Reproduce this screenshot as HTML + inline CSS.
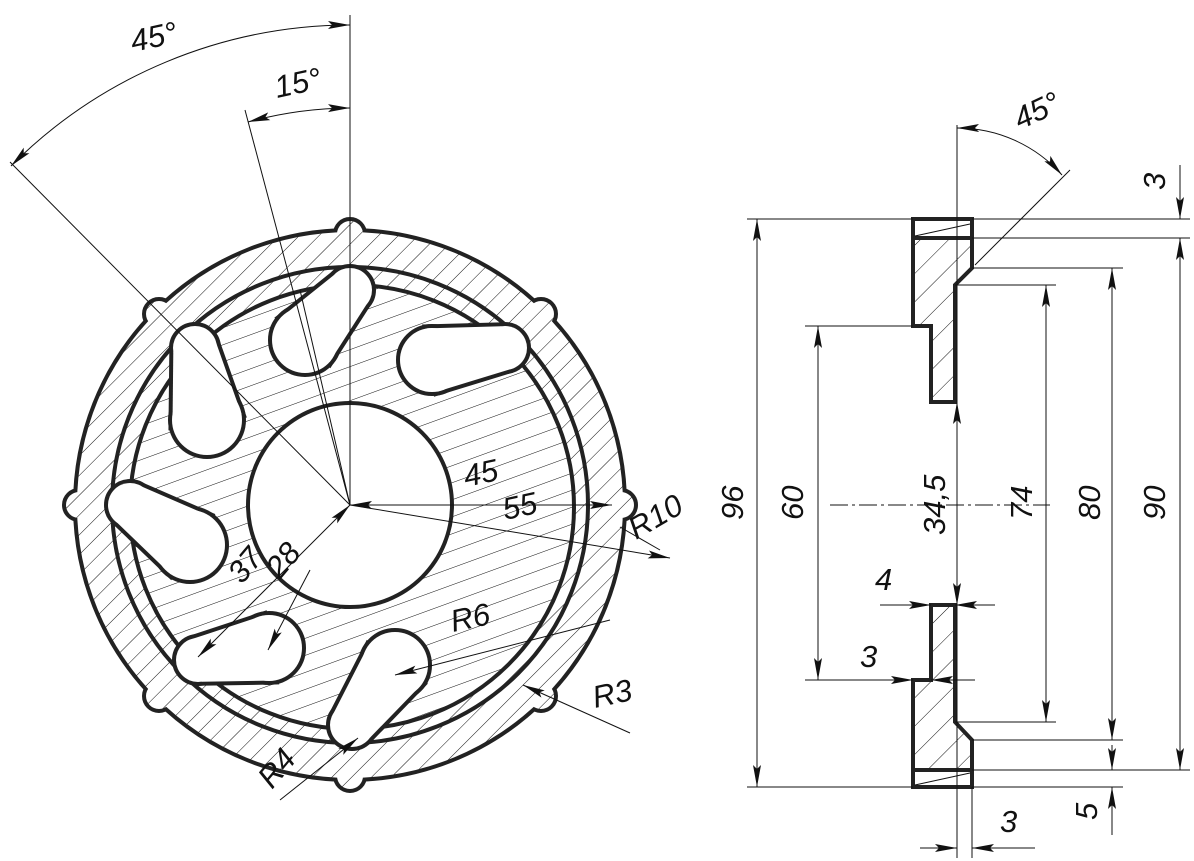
<!DOCTYPE html>
<html><head><meta charset="utf-8"><style>
html,body{margin:0;padding:0;background:#fff}
svg{display:block}
text{font-family:"Liberation Sans",sans-serif;font-style:italic;font-size:31px;fill:#111;font-weight:normal}
</style></head><body>
<svg width="1194" height="861" viewBox="0 0 1194 861" xmlns="http://www.w3.org/2000/svg">
<defs>
<pattern id="h45" patternUnits="userSpaceOnUse" width="14" height="14" patternTransform="rotate(45)">
<rect width="14" height="14" fill="#fff"/><line x1="0" y1="0" x2="0" y2="14" stroke="#111" stroke-width="1"/></pattern>
<pattern id="hs" patternUnits="userSpaceOnUse" width="16" height="16" patternTransform="rotate(-20)">
<rect width="16" height="16" fill="#fff"/><line x1="0" y1="0" x2="16" y2="0" stroke="#111" stroke-width="1"/></pattern>
<pattern id="hr" patternUnits="userSpaceOnUse" width="20" height="20" patternTransform="rotate(45)">
<rect width="20" height="20" fill="#fff"/><line x1="0" y1="0" x2="0" y2="20" stroke="#111" stroke-width="1"/></pattern>
<marker id="a" viewBox="0 -5 22 10" refX="22" refY="0" markerWidth="22" markerHeight="10" markerUnits="userSpaceOnUse" orient="auto-start-reverse">
<path d="M0,-4 L22,0 L0,4 L4,0 z" fill="#111"/></marker>
<g id="body">
<circle cx="350" cy="505" r="273"/>
<circle cx="621" cy="505" r="13"/><circle cx="541" cy="314" r="13"/><circle cx="350" cy="234" r="13"/><circle cx="159" cy="314" r="13"/>
<circle cx="79" cy="505" r="13"/><circle cx="159" cy="696" r="13"/><circle cx="350" cy="776" r="13"/><circle cx="541" cy="696" r="13"/>
</g>
<g id="holes">
<circle cx="350" cy="505" r="100"/>
<circle cx="305" cy="340" r="33"/><circle cx="350" cy="290" r="22"/><polygon points="329.5,362.1 280.5,317.9 333.7,275.3 366.3,304.7"/>
<circle cx="432" cy="360" r="32"/><circle cx="505" cy="348" r="22"/><polygon points="437.2,391.6 426.8,328.4 501.4,326.3 508.6,369.7"/>
<circle cx="207" cy="420" r="35"/><circle cx="195" cy="348" r="22"/><polygon points="241.5,414.3 172.5,425.7 173.3,351.6 216.7,344.4"/>
<circle cx="190" cy="545" r="35"/><circle cx="130" cy="505" r="22"/><polygon points="209.4,515.9 170.6,574.1 117.8,523.3 142.2,486.7"/>
<circle cx="269" cy="648" r="33"/><circle cx="198" cy="660" r="22"/><polygon points="263.5,615.5 274.5,680.5 201.7,681.7 194.3,638.3"/>
<circle cx="395" cy="665" r="33"/><circle cx="352" cy="725" r="22"/><polygon points="421.8,684.2 368.2,645.8 334.1,712.2 369.9,737.8"/>
</g>
</defs>

<use href="#body" fill="#111" stroke="#222" stroke-width="8"/>
<use href="#body" fill="url(#h45)" stroke="none"/>
<circle cx="350" cy="505" r="238" fill="url(#h45)" stroke="#222" stroke-width="4"/>
<circle cx="352" cy="507" r="222" fill="url(#hs)" stroke="#222" stroke-width="4"/>
<use href="#holes" fill="#111" stroke="#222" stroke-width="8"/>
<use href="#holes" fill="#fff" stroke="none"/>

<g stroke="#111" stroke-width="1" fill="none">
<line x1="350" y1="15" x2="350" y2="505"/>
<line x1="10" y1="162" x2="350" y2="505"/>
<line x1="245" y1="110" x2="350" y2="505"/>
<path d="M350,25 A480,480 0 0 0 11,166" marker-start="url(#a)" marker-end="url(#a)"/>
<path d="M350,108 A397,397 0 0 0 248,122" marker-start="url(#a)" marker-end="url(#a)"/>
<line x1="450" y1="505" x2="350" y2="505" marker-end="url(#a)"/>
<line x1="350" y1="505" x2="612" y2="505" marker-end="url(#a)"/>
<line x1="350" y1="505" x2="670" y2="558" marker-end="url(#a)"/>
<line x1="350" y1="505" x2="300" y2="290"/>
<line x1="350" y1="505" x2="198" y2="657" marker-end="url(#a)" marker-start="url(#a)"/>
<line x1="310" y1="570" x2="268" y2="650" marker-end="url(#a)"/>
<line x1="610" y1="620" x2="395" y2="675" marker-end="url(#a)"/>
<line x1="630" y1="733" x2="523" y2="685" marker-end="url(#a)"/>
<line x1="620" y1="527" x2="660" y2="550"/>
<line x1="280" y1="800" x2="358" y2="738" marker-end="url(#a)"/>
</g>
<text transform="translate(133,52) rotate(-12)">45°</text>
<text transform="translate(277,98) rotate(-12)">15°</text>
<text transform="translate(466,487) rotate(-12)">45</text>
<text transform="translate(505,520) rotate(-12)">55</text>
<text transform="translate(636,540) rotate(-30)">R10</text>
<text transform="translate(242,585) rotate(-50)">37</text>
<text transform="translate(280,580) rotate(-50)">28</text>
<text transform="translate(453,632) rotate(-12)">R6</text>
<text transform="translate(595,708) rotate(-12)">R3</text>
<text transform="translate(272,790) rotate(-50)">R4</text>

<g stroke="#222" stroke-width="4" stroke-linejoin="miter">
<path d="M913,219 L972,219 L972,268 L955,285 L955,402 L931,402 L931,326 L913,326 Z" fill="url(#hr)"/>
<line x1="913" y1="238" x2="972" y2="238"/>
<path d="M931,605 L955,605 L955,722 L972,740 L972,787 L913,787 L913,680 L931,680 Z" fill="url(#hr)"/>
<line x1="913" y1="770" x2="972" y2="770"/>
<rect x="915" y="221" width="55" height="15" fill="#fff" stroke="none"/>
<rect x="915" y="772" width="55" height="13" fill="#fff" stroke="none"/>
</g>
<g stroke="#111" stroke-width="1" fill="none">
<line x1="915" y1="236" x2="970" y2="224"/>
<line x1="915" y1="785" x2="970" y2="773"/>
<line x1="957" y1="125" x2="957" y2="858"/>
<line x1="830" y1="505" x2="1050" y2="505" stroke-dasharray="18,4,3,4"/>
<line x1="975" y1="265" x2="1070" y2="170"/>
<path d="M957,128 A140,140 0 0 1 1062,175" marker-start="url(#a)" marker-end="url(#a)"/>
<line x1="747" y1="219" x2="913" y2="219"/><line x1="747" y1="787" x2="913" y2="787"/>
<line x1="805" y1="326" x2="913" y2="326"/><line x1="805" y1="680" x2="913" y2="680"/>
<line x1="955" y1="285" x2="1056" y2="285"/><line x1="955" y1="722" x2="1056" y2="722"/>
<line x1="972" y1="268" x2="1123" y2="268"/><line x1="972" y1="740" x2="1123" y2="740"/>
<line x1="972" y1="219" x2="1190" y2="219"/><line x1="972" y1="238" x2="1190" y2="238"/>
<line x1="972" y1="770" x2="1190" y2="770"/><line x1="972" y1="787" x2="1123" y2="787"/>
<line x1="972" y1="787" x2="972" y2="858"/>
<line x1="757" y1="219" x2="757" y2="787" marker-start="url(#a)" marker-end="url(#a)"/>
<line x1="818" y1="326" x2="818" y2="680" marker-start="url(#a)" marker-end="url(#a)"/>
<line x1="957" y1="402" x2="957" y2="605" marker-start="url(#a)" marker-end="url(#a)"/>
<line x1="1046" y1="285" x2="1046" y2="722" marker-start="url(#a)" marker-end="url(#a)"/>
<line x1="1112" y1="268" x2="1112" y2="740" marker-start="url(#a)" marker-end="url(#a)"/>
<line x1="1180" y1="238" x2="1180" y2="770" marker-start="url(#a)" marker-end="url(#a)"/>
<line x1="1180" y1="165" x2="1180" y2="219" marker-end="url(#a)"/>
<line x1="1112" y1="835" x2="1112" y2="787" marker-end="url(#a)"/>
<line x1="1112" y1="745" x2="1112" y2="770" marker-end="url(#a)"/>
<line x1="920" y1="848" x2="957" y2="848" marker-end="url(#a)"/>
<line x1="1035" y1="848" x2="972" y2="848" marker-end="url(#a)"/>
<line x1="880" y1="605" x2="931" y2="605" marker-end="url(#a)"/>
<line x1="995" y1="605" x2="955" y2="605" marker-end="url(#a)"/>
<line x1="860" y1="680" x2="913" y2="680" marker-end="url(#a)"/>
<line x1="975" y1="680" x2="931" y2="680" marker-end="url(#a)"/>
</g>
<text transform="translate(1020,130) rotate(-25)">45°</text>
<text transform="translate(1165,190) rotate(-90)">3</text>
<text transform="translate(743,520) rotate(-90)">96</text>
<text transform="translate(803,520) rotate(-90)">60</text>
<text transform="translate(945,535) rotate(-90)">34,5</text>
<text transform="translate(1032,520) rotate(-90)">74</text>
<text transform="translate(1100,520) rotate(-90)">80</text>
<text transform="translate(1165,520) rotate(-90)">90</text>
<text transform="translate(1097,820) rotate(-90)">5</text>
<text x="875" y="590">4</text>
<text x="860" y="667">3</text>
<text x="1000" y="832">3</text>
</svg>
</body></html>
